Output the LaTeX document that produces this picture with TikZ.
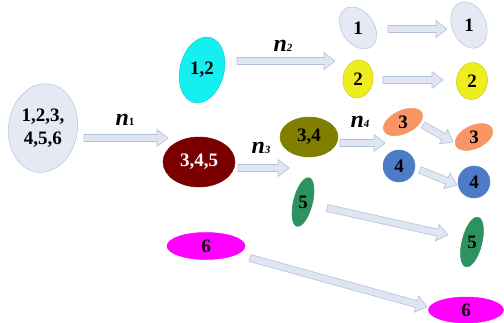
\documentclass[tikz,border=0pt]{standalone}
\usepackage{fontspec}
\setmainfont{Liberation Serif}
\usetikzlibrary{shapes.geometric,calc}
\definecolor{arrfill}{HTML}{DFE6F1}
\definecolor{arrline}{HTML}{B4C2D6}
\definecolor{pale}{HTML}{E4E9F4}
\definecolor{paleline}{HTML}{B8C3D8}
\definecolor{cyanf}{HTML}{14F0F0}
\definecolor{darkredf}{HTML}{7A0000}
\definecolor{yellowf}{HTML}{EEEE1E}
\definecolor{olivef}{HTML}{817F00}
\definecolor{orangef}{HTML}{F79565}
\definecolor{bluef}{HTML}{4D7CC6}
\definecolor{greenf}{HTML}{2E9260}
\definecolor{magentaf}{HTML}{FF00FF}
\tikzset{
  el/.style={ellipse, inner sep=0pt, line width=0.5pt},
  txt/.style={font=\fontsize{19}{23}\selectfont\bfseries, inner sep=0pt},
  nlab/.style={inner sep=0pt},
  blk/.style={draw=arrline, fill=arrfill, line width=0.6pt, line join=miter,
    to path={let \p1=(\tikztostart), \p2=(\tikztotarget),
      \n1={atan2(\y2-\y1,\x2-\x1)}, \n2={veclen(\x2-\x1,\y2-\y1)} in
      {[shift={(\x1,\y1)}, rotate=\n1]
        (0pt,-3.5pt) -- (\n2-11pt,-3.5pt) -- (\n2-11pt,-8.5pt) -- (\n2,0pt)
        -- (\n2-11pt,8.5pt) -- (\n2-11pt,3.5pt) -- (0pt,3.5pt) -- cycle}}}
}
\newcommand{\nlabel}[1]{{\fontsize{24}{24}\selectfont\bfseries\itshape n}{\fontsize{11}{11}\selectfont\bfseries #1}}
\begin{document}
\begin{tikzpicture}[x=1pt,y=-1pt]
\useasboundingbox (0,0) rectangle (504,322);
% ellipses
\node[el, fill=pale, draw=paleline, minimum width=69pt, minimum height=89pt, rotate=-8] (A) at (43,128) {};
\node[txt, align=center] (Atext) at (A) {1,2,3,\\4,5,6};
\node[el, fill=darkredf, draw=darkredf, minimum width=72pt, minimum height=50pt] (B) at (199,162) {};
\node[txt, text=white] (Btext) at (B) {3,4,5};
\node[el, fill=cyanf, draw=cyanf!85!black, minimum width=44pt, minimum height=67pt, rotate=-14] (C) at (202,70) {};
\node[txt] (Ctext) at (C) {1,2};
\node[el, fill=olivef, draw=olivef, minimum width=58pt, minimum height=40pt] (D) at (309,137) {};
\node[txt] (Dtext) at (D) {3,4};
% leaves left
\node[el, fill=pale, draw=paleline, minimum width=32pt, minimum height=46pt, rotate=35] (L1) at (358,28) {};
\node[txt] (L1t) at (L1) {1};
\node[el, fill=yellowf, draw=yellowf!85!black, minimum width=30pt, minimum height=38pt, rotate=-8] (L2) at (358,79) {};
\node[txt] (L2t) at (L2) {2};
\node[el, fill=orangef, draw=orangef, minimum width=42pt, minimum height=23pt, rotate=25] (L3) at (403,122) {};
\node[txt] (L3t) at (L3) {3};
\node[el, fill=bluef, draw=bluef, minimum width=32pt, minimum height=32pt] (L4) at (399,166) {};
\node[txt] (L4t) at (L4) {4};
\node[el, fill=greenf, draw=greenf, minimum width=19pt, minimum height=50pt, rotate=-14] (L5) at (303,202) {};
\node[txt] (L5t) at (L5) {5};
\node[el, fill=magentaf, draw=magentaf, minimum width=78pt, minimum height=27pt] (L6) at (206,246) {};
\node[txt] (L6t) at (L6) {6};
% leaves right
\node[el, fill=pale, draw=paleline, minimum width=34pt, minimum height=48pt, rotate=22] (R1) at (469,25) {};
\node[txt] (R1t) at (R1) {1};
\node[el, fill=yellowf, draw=yellowf!85!black, minimum width=31pt, minimum height=37pt, rotate=-8] (R2) at (472,81) {};
\node[txt] (R2t) at (R2) {2};
\node[el, fill=orangef, draw=orangef, minimum width=40pt, minimum height=23pt, rotate=25] (R3) at (474,137) {};
\node[txt] (R3t) at (R3) {3};
\node[el, fill=bluef, draw=bluef, minimum width=32pt, minimum height=32pt] (R4) at (474,182) {};
\node[txt] (R4t) at (R4) {4};
\node[el, fill=greenf, draw=greenf, minimum width=20pt, minimum height=51pt, rotate=-14] (R5) at (472,242) {};
\node[txt] (R5t) at (R5) {5};
\node[el, fill=magentaf, draw=magentaf, minimum width=75pt, minimum height=26pt] (R6) at (466,310) {};
\node[txt] (R6t) at (R6) {6};
% arrow end points
\coordinate (a1s) at (84,138);  \coordinate (a1e) at (168,138);
\coordinate (a2s) at (237,61);  \coordinate (a2e) at (335,61);
\coordinate (a3s) at (238,168); \coordinate (a3e) at (289,168);
\coordinate (a4s) at (340,143); \coordinate (a4e) at (385,143);
\coordinate (b1s) at (388,29);  \coordinate (b1e) at (447,29);
\coordinate (b2s) at (383,80);  \coordinate (b2e) at (443,80);
\coordinate (b3s) at (423,125); \coordinate (b3e) at (453,142);
\coordinate (b4s) at (420,170); \coordinate (b4e) at (457,185);
\coordinate (b5s) at (327,208); \coordinate (b5e) at (448,235);
\coordinate (b6s) at (250,258); \coordinate (b6e) at (427,307);
\draw[blk] (a1s) to (a1e);
\draw[blk] (a2s) to (a2e);
\draw[blk] (a3s) to (a3e);
\draw[blk] (a4s) to (a4e);
\draw[blk] (b1s) to (b1e);
\draw[blk] (b2s) to (b2e);
\draw[blk] (b3s) to (b3e);
\draw[blk] (b4s) to (b4e);
\draw[blk] (b5s) to (b5e);
\draw[blk] (b6s) to (b6e);
% labels
\node[nlab] (n1) at (125,120) {\nlabel{1}};
\node[nlab] (n2) at (283,46) {\nlabel{\itshape 2}};
\node[nlab] (n3) at (261,148) {\nlabel{\itshape 3}};
\node[nlab] (n4) at (360,122) {\nlabel{\itshape 4}};
\end{tikzpicture}
\end{document}
